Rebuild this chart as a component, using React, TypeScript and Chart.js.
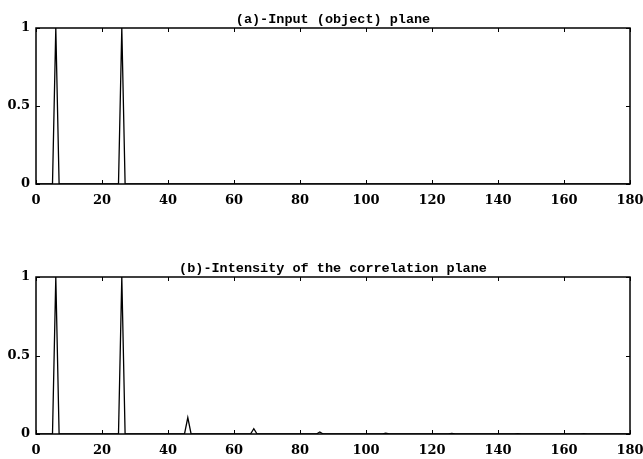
import React, { useEffect, useRef } from "react";
import { Chart, registerables } from "chart.js";

Chart.register(...registerables);

// ---- data ----
const inputX = [0, 5, 6, 7, 25, 26, 27, 180];
const inputY = [0, 0, 1, 0, 0, 1, 0, 0];

const corrX = [0, 5, 6, 7, 25, 26, 27, 45, 46, 47, 65, 66, 67, 85, 86, 87, 105, 106, 107, 125, 126, 127, 145, 146, 147, 165, 166, 167, 180];
const corrY = [0, 0, 1, 0, 0, 1, 0, 0, 0.105, 0, 0, 0.034, 0, 0, 0.013, 0, 0, 0.005, 0, 0, 0.004, 0, 0, 0.002, 0, 0, 0.002, 0, 0];

const xTickValues = [0, 20, 40, 60, 80, 100, 120, 140, 160, 180];
const yTickValues = [0, 0.5, 1];
const yTickLabels = ["0", "0.5", "1"];

const titleA = "(a)-Input (object) plane";
const titleB = "(b)-Intensity of the correlation plane";

const TICK_FONT = { family: "'DejaVu Serif', serif", size: 13, weight: "bold" as const };

const framePlugin = {
  id: "frame",
  afterDraw(chart: any, _args: any, opts: any) {
    const { ctx, chartArea: a, scales } = chart;
    ctx.save();
    ctx.strokeStyle = "#000";
    ctx.lineWidth = 1.5;
    ctx.strokeRect(a.left, a.top, a.right - a.left, a.bottom - a.top);
    ctx.lineWidth = 1;
    const t = 4;
    ctx.beginPath();
    scales.x.ticks.forEach((tk: any) => {
      const px = Math.round(scales.x.getPixelForValue(tk.value)) + 0.5;
      ctx.moveTo(px, a.bottom);
      ctx.lineTo(px, a.bottom - t);
      ctx.moveTo(px, a.top);
      ctx.lineTo(px, a.top + t);
    });
    scales.y.ticks.forEach((tk: any) => {
      const py = Math.round(scales.y.getPixelForValue(tk.value)) + 0.5;
      ctx.moveTo(a.left, py);
      ctx.lineTo(a.left + t, py);
      ctx.moveTo(a.right, py);
      ctx.lineTo(a.right - t, py);
    });
    ctx.stroke();
    ctx.fillStyle = "#000";
    ctx.font = "bold 13.5px 'Liberation Mono', monospace";
    ctx.textAlign = "center";
    ctx.textBaseline = "alphabetic";
    ctx.fillText(opts.title, (a.left + a.right) / 2, a.top - 5);
    ctx.restore();
  },
};

function makeConfig(xs: number[], ys: number[], title: string, padTop: number, xAxisHeight: number) {
  return {
    type: "line" as const,
    data: {
      datasets: [
        {
          data: xs.map((x, i) => ({ x, y: ys[i] })),
          borderColor: "#000",
          borderWidth: 1.3,
          pointRadius: 0,
          tension: 0,
          fill: false,
        },
      ],
    },
    options: {
      animation: false as const,
      responsive: false,
      layout: { padding: { top: padTop, left: 0, right: 13, bottom: 0 } },
      plugins: {
        legend: { display: false },
        tooltip: { enabled: false },
        title: { display: false },
        frame: { title },
      },
      scales: {
        x: {
          type: "linear" as const,
          min: 0,
          max: 180,
          afterBuildTicks: (s: any) => {
            s.ticks = xTickValues.map((v) => ({ value: v }));
          },
          afterFit: (s: any) => {
            s.height = xAxisHeight;
            s.paddingLeft = 0;
            s.paddingRight = 0;
          },
          grid: { display: false, drawTicks: false, tickLength: 0 },
          border: { display: false },
          ticks: {
            color: "#000",
            font: TICK_FONT,
            padding: 9,
            maxRotation: 0,
            autoSkip: false,
            callback: (v: any) => String(v),
          },
        },
        y: {
          type: "linear" as const,
          min: 0,
          max: 1,
          afterBuildTicks: (s: any) => {
            s.ticks = yTickValues.map((v) => ({ value: v }));
          },
          afterFit: (s: any) => {
            s.width = 36;
            s.paddingTop = 0;
            s.paddingBottom = 0;
          },
          grid: { display: false, drawTicks: false, tickLength: 0 },
          border: { display: false },
          ticks: {
            color: "#000",
            font: TICK_FONT,
            padding: 6,
            callback: (_v: any, i: number) => yTickLabels[i],
          },
        },
      },
    },
    plugins: [framePlugin],
  };
}

function Panel(props: { xs: number[]; ys: number[]; title: string; height: number; padTop: number; xAxisHeight: number }) {
  const ref = useRef<HTMLCanvasElement>(null);
  useEffect(() => {
    if (!ref.current) return;
    const chart = new Chart(ref.current, makeConfig(props.xs, props.ys, props.title, props.padTop, props.xAxisHeight) as any);
    return () => chart.destroy();
  }, []);
  return <canvas ref={ref} width={643} height={props.height} style={{ display: "block", width: 643, height: props.height }} />;
}

export default function App() {
  return (
    <div style={{ position: "absolute", left: 0, top: 0, width: 643, height: 459, background: "#fff" }}>
      <Panel xs={inputX} ys={inputY} title={titleA} height={230} padTop={28} xAxisHeight={46} />
      <Panel xs={corrX} ys={corrY} title={titleB} height={229} padTop={47} xAxisHeight={25} />
    </div>
  );
}
